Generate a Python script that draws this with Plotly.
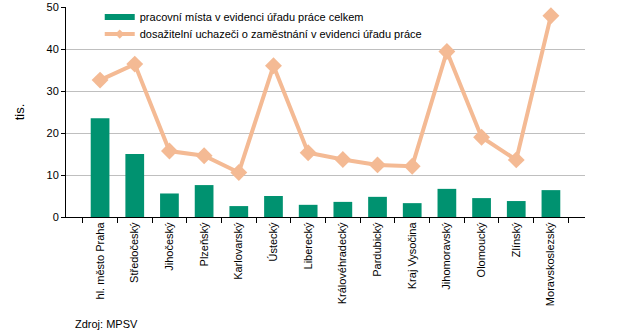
import plotly.graph_objects as go

# kraje
kraje = ['hl. město Praha', 'Středočeský', 'Jihočeský', 'Plzeňský', 'Karlovarský',
         'Ústecký', 'Liberecký', 'Královéhradecký', 'Pardubický', 'Kraj Vysočina',
         'Jihomoravský', 'Olomoucký', 'Zlínský', 'Moravskoslezský']

# tis.
mista = [23.5, 15.0, 5.6, 7.6, 2.6, 5.0, 2.9, 3.6, 4.8, 3.3, 6.7, 4.5, 3.8, 6.4]
uchazeci = [32.6, 36.4, 15.7, 14.6, 10.6, 36.0, 15.3, 13.7, 12.4, 12.1, 39.4, 19.0, 13.6, 47.9]

name_mista = 'pracovní místa v evidenci úřadu práce celkem'
name_uch = 'dosažitelní uchazeči o zaměstnání v evidenci úřadu práce'
green = '#009270'
peach = '#F4BA94'

font = dict(family='Liberation Sans, Arial, sans-serif', size=11, color='black')

fig = go.Figure()
fig.add_trace(go.Bar(name=name_mista, x=kraje, y=mista, showlegend=False,
                     marker=dict(color=green, line=dict(width=0))))
fig.add_trace(go.Scatter(name=name_uch, x=kraje, y=uchazeci, mode='lines+markers',
                         showlegend=False, line=dict(color=peach, width=4),
                         marker=dict(symbol='diamond', size=13, color=peach)))
# legend entries drawn like in the original (flat bar, thin line with small marker)
fig.add_trace(go.Scatter(name=name_mista, x=[None], y=[None], mode='lines',
                         line=dict(color=green, width=6), legend='legend'))
fig.add_trace(go.Scatter(name=name_uch, x=[None], y=[None], mode='lines+markers',
                         line=dict(color=peach, width=4),
                         marker=dict(symbol='diamond', size=7, color=peach), legend='legend2'))

leg = dict(x=0.065, xanchor='left', yanchor='middle', bgcolor='rgba(0,0,0,0)',
           font=dict(size=11), itemwidth=30)

fig.update_layout(
    width=635, height=332,
    margin=dict(l=66, r=50, t=7, b=115, autoexpand=False),
    paper_bgcolor='white', plot_bgcolor='white',
    font=font,
    bargap=0.46,
    showlegend=True,
    legend=dict(leg, y=0.952),
    legend2=dict(leg, y=0.871),
    xaxis=dict(type='category', tickangle=-90, showline=True, linecolor='black',
               ticks='outside', ticklen=5, tickcolor='black', tickson='boundaries',
               showgrid=False, tickfont=dict(size=11), automargin=False),
    yaxis=dict(range=[0, 50], dtick=10, showline=True, linecolor='black',
               ticks='outside', ticklen=4, tickcolor='black',
               gridcolor='#BFBFBF', zeroline=False, automargin=False,
               title=dict(text='tis.', standoff=18), tickfont=dict(size=11)),
    annotations=[dict(text='Zdroj: MPSV', xref='paper', yref='paper', x=0.013, y=-0.51,
                      xanchor='left', yanchor='middle', showarrow=False, font=dict(size=11))],
)

# page body has a default 8px margin
fig.write_html('out.html', config={'displayModeBar': False},
               post_script="document.body.style.margin='0px';")
